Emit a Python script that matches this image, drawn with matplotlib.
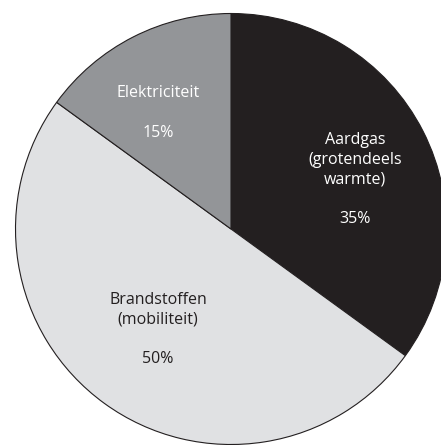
import matplotlib
matplotlib.use("Agg")
import matplotlib.pyplot as plt

labels = ["Aardgas\n(grotendeels\nwarmte)", "Brandstoffen\n(mobiliteit)", "Elektriciteit"]
values = [35, 50, 15]
colors = ["#231f20", "#e0e1e3", "#939598"]
text_colors = ["white", "#231f20", "white"]
# label anchor positions (pixels from top-left)
label_pos = [(355, 179.5), (158, 329.5), (158, 113)]

W, H = 441, 445
fig = plt.figure(figsize=(W / 100, H / 100), dpi=100)
ax = fig.add_axes([0, 0, 1, 1])
cx, cy, r = 231, 229, 215.5
ax.pie(values, colors=colors, startangle=90, counterclock=False,
       center=(cx, H - cy), radius=r, frame=True,
       wedgeprops=dict(edgecolor="#231f20", linewidth=0.8))
ax.set_xlim(0, W)
ax.set_ylim(0, H)
ax.set_aspect("equal")
ax.axis("off")

for lab, v, tc, (px, py) in zip(labels, values, text_colors, label_pos):
    ax.text(px, H - py, f"{lab}\n\n{v}%", ha="center", va="center",
            color=tc, fontsize=11.5, family="Open Sans", linespacing=1.32)

fig.savefig("out.png", dpi=100)
